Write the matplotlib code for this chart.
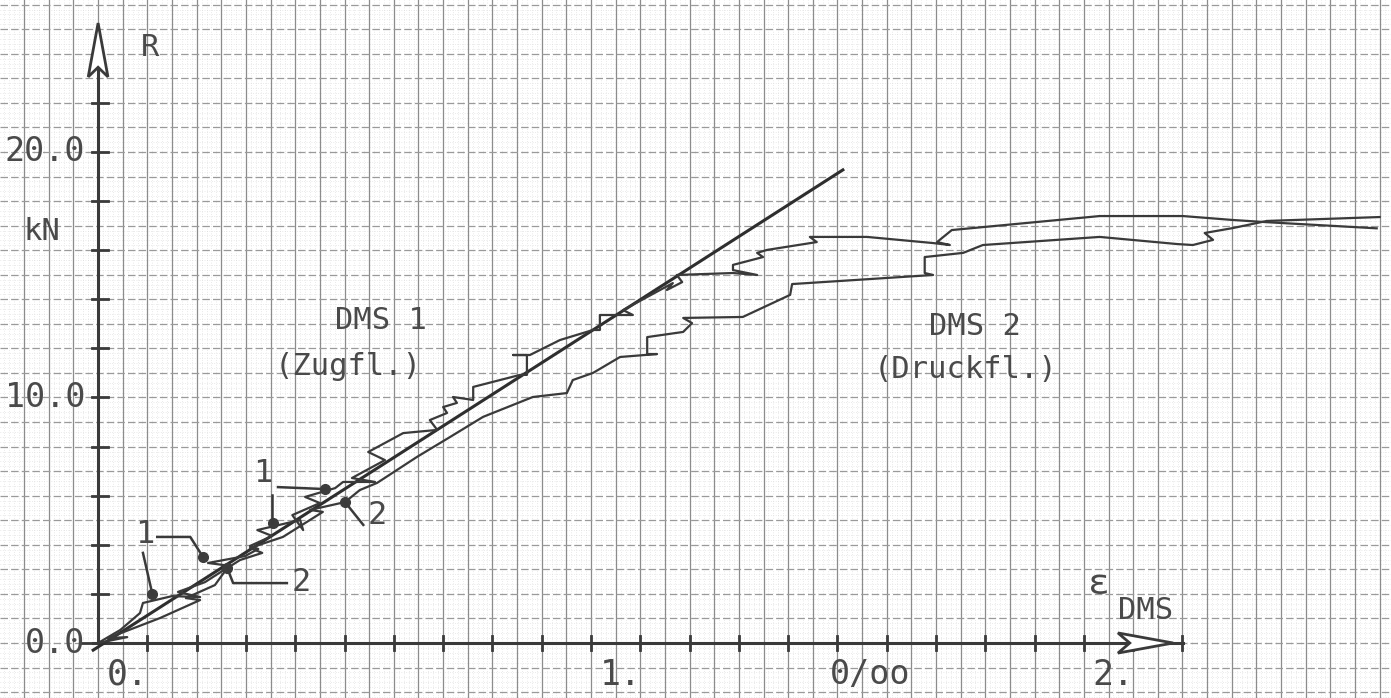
import matplotlib
matplotlib.use("Agg")
import matplotlib.pyplot as plt
from matplotlib.patches import Polygon
import numpy as np

# strain eps_DMS in 0/00, load R in kN
dms_a_eps = [0.000, 0.045, 0.085, 0.091, 0.150, 0.207, 0.162, 0.217, 0.268, 0.223,
             0.298, 0.325, 0.308, 0.353, 0.323, 0.410, 0.416, 0.394, 0.450, 0.420,
             0.481, 0.497, 0.562, 0.515, 0.582, 0.548, 0.619, 0.688, 0.673, 0.708,
             0.700, 0.728, 0.720, 0.761, 0.761, 0.856, 0.870, 0.870, 0.842, 0.876,
             0.937, 1.004, 1.018, 1.018, 1.085, 1.065, 1.166, 1.154, 1.185, 1.174,
             1.288, 1.337, 1.288, 1.288, 1.349, 1.337, 1.357, 1.458, 1.444, 1.560,
             1.694, 1.728, 1.702, 1.732, 2.032, 2.201, 2.302, 2.371, 2.594]
dms_a_r = [0.00, 0.53, 1.22, 1.63, 1.91, 1.87, 2.08, 2.48, 3.14, 3.26,
           3.54, 3.83, 3.95, 4.36, 4.60, 5.01, 4.60, 5.21, 5.70, 5.95,
           6.31, 6.56, 6.56, 6.72, 7.45, 7.78, 8.55, 8.68, 9.08, 9.37,
           9.61, 9.78, 10.02, 9.90, 10.43, 10.92, 10.92, 11.73, 11.73, 11.73,
           12.34, 12.75, 12.75, 13.36, 13.36, 13.56, 14.66, 14.38, 14.70, 14.99,
           15.07, 14.99, 15.19, 15.40, 15.72, 15.89, 16.01, 16.33, 16.54, 16.54,
           16.29, 16.21, 16.33, 16.82, 17.39, 17.39, 17.23, 17.14, 16.89]

dms_b_eps = [0.000, 0.059, 0.020, 0.126, 0.207, 0.178, 0.237, 0.262, 0.288, 0.333,
             0.308, 0.375, 0.456, 0.430, 0.501, 0.531, 0.566, 0.647, 0.714, 0.781,
             0.882, 0.951, 0.963, 1.004, 1.059, 1.134, 1.114, 1.114, 1.187, 1.205,
             1.187, 1.308, 1.404, 1.408, 1.694, 1.677, 1.677, 1.755, 1.795, 2.032,
             2.189, 2.221, 2.262, 2.245, 2.302, 2.371, 2.600]
dms_b_r = [0.00, 0.24, 0.20, 1.02, 1.75, 1.83, 2.36, 3.05, 3.38, 3.67,
           3.87, 4.32, 5.34, 5.42, 5.74, 6.23, 6.52, 7.58, 8.39, 9.21,
           10.02, 10.18, 10.71, 11.00, 11.65, 11.77, 11.77, 12.46, 12.67, 13.03,
           13.24, 13.28, 14.18, 14.62, 14.99, 15.07, 15.72, 15.89, 16.21, 16.54,
           16.25, 16.21, 16.42, 16.70, 16.90, 17.19, 17.35]

# straight reference line
ref_eps = [-0.010, 1.511]
ref_r = [-0.29, 19.27]

# marked points (1 / 2)
mark_eps = [0.110, 0.213, 0.262, 0.355, 0.460, 0.501]
mark_r = [2.00, 3.50, 3.05, 4.89, 6.27, 5.74]

y_ticks = np.arange(2, 23, 2)
x_ticks = np.round(np.arange(0.1, 2.21, 0.1), 2)
y_labels = {20: "20.0", 10: "10.0", 0: "0.0"}
x_labels = {0: "0.", 1: "1.", 2: "2."}

ink = "#3a3a3a"
txt = "#4a4a4a"
mono = "DejaVu Sans Mono"

fig = plt.figure(figsize=(13.91, 6.98), dpi=100)
ax = fig.add_axes([0, 0, 1, 1])
x0, x1, y0, y1 = -0.199, 2.623, -2.24, 26.19
ax.set_xlim(x0, x1)
ax.set_ylim(y0, y1)
ax.axis("off")

# graph paper
for v in np.arange(-0.19, 2.62, 0.01):
    if abs(v / 0.05 - round(v / 0.05)) > 1e-6:
        ax.axvline(v, color="#d6d6d6", lw=0.5, ls=(0, (1, 2.5)), zorder=0)
for h in np.arange(-2.2, 26.2, 0.2):
    if abs(h - round(h)) > 1e-6:
        ax.axhline(h, color="#d6d6d6", lw=0.5, ls=(0, (1, 2.5)), zorder=0)
for v in np.arange(-0.15, 2.62, 0.05):
    ax.axvline(v, color="#8c8c8c", lw=0.9, zorder=1)
for h in range(-2, 27):
    ax.axhline(h, color="#9a9a9a", lw=0.9, ls=(0, (6, 2.5)), zorder=1)

# axes of the plotter
ax.plot([0, 0], [0, 23.4], color=ink, lw=2.2, zorder=3)
ax.plot([-0.01, 2.201], [0, 0], color=ink, lw=2.2, zorder=3)
for t in y_ticks:
    ax.plot([-0.012, 0.02], [t, t], color=ink, lw=2, zorder=3)
ax.plot([-0.035, 0], [0, 0], color=ink, lw=2, zorder=3)
for t in x_ticks:
    ax.plot([t, t], [-0.28, 0.28], color=ink, lw=2, zorder=3)

ax.add_patch(Polygon([[0, 25.25], [-0.02, 23.06], [0, 23.45], [0.02, 23.06]],
                     closed=True, fc="white", ec=ink, lw=2, zorder=4))
ax.add_patch(Polygon([[2.181, 0], [2.069, 0.41], [2.093, 0], [2.069, -0.41]],
                     closed=True, fc="white", ec=ink, lw=2, zorder=4))

# curves
ax.plot(ref_eps, ref_r, color="#2e2e2e", lw=2.2, zorder=5)
ax.plot(dms_a_eps, dms_a_r, color=ink, lw=1.6, zorder=5)
ax.plot(dms_b_eps, dms_b_r, color=ink, lw=1.6, zorder=5)
ax.plot(mark_eps, mark_r, "o", color="#3c3c3c", ms=7, zorder=6)

# leaders to the marked points
leaders = [
    ([0.091, 0.110], [3.67, 2.00]),
    ([0.120, 0.187, 0.213], [4.32, 4.32, 3.50]),
    ([0.262, 0.274, 0.383], [3.05, 2.44, 2.44]),
    ([0.365, 0.460], [6.35, 6.27]),
    ([0.353, 0.353], [6.03, 4.89]),
    ([0.501, 0.538], [5.74, 4.81]),
]
for lx, ly in leaders:
    ax.plot(lx, ly, color=ink, lw=1.8, zorder=6)

ax.text(0.095, 4.40, "1", fontsize=23, family=mono, color=txt, ha="center", va="center")
ax.text(0.412, 2.48, "2", fontsize=23, family=mono, color=txt, ha="center", va="center")
ax.text(0.335, 6.92, "1", fontsize=23, family=mono, color=txt, ha="center", va="center")
ax.text(0.566, 5.21, "2", fontsize=23, family=mono, color=txt, ha="center", va="center")

# axis labels
for v, s in y_labels.items():
    ax.text(-0.026, v, s, fontsize=24, family=mono, color=txt, ha="right", va="center")
for v, s in x_labels.items():
    ax.text(v + 0.018, -1.30, s, fontsize=25, family=mono, color=txt, ha="left", va="center")
ax.text(1.485, -1.30, "0/oo", fontsize=24, family=mono, color=txt, ha="left", va="center")
ax.text(0.105, 24.24, "R", fontsize=22, family=mono, color=txt, ha="center", va="center")
ax.text(-0.114, 16.78, "kN", fontsize=22, family=mono, color=txt, ha="center", va="center")
ax.text(2.030, 2.40, "ε", fontsize=26, family=mono, color=txt, ha="center", va="center")
ax.text(2.069, 1.34, "DMS", fontsize=22, family=mono, color=txt, ha="left", va="center")

ax.text(0.667, 13.12, "DMS 1", fontsize=22, family=mono, color=txt, ha="right", va="center")
ax.text(0.657, 11.28, "(Zugfl.)", fontsize=22, family=mono, color=txt, ha="right", va="center")
ax.text(1.779, 12.91, "DMS 2", fontsize=22, family=mono, color=txt, ha="center", va="center")
ax.text(1.759, 11.12, "(Druckfl.)", fontsize=22, family=mono, color=txt, ha="center", va="center")

fig.savefig("out.png", dpi=100)
